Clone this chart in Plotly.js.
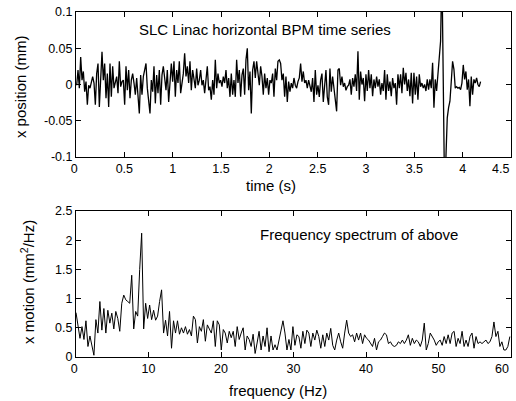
<!DOCTYPE html>
<html>
<head>
<meta charset="utf-8">
<script src="https://cdn.plot.ly/plotly-3.0.1.min.js"></script>
<style>html,body{margin:0;padding:0;background:#fff;}#chart{width:516px;height:401px;}</style>
</head>
<body>
<div id="chart"></div>
<script>
// ---- time series (x position, mm), uniformly sampled ----
const timeStart = 0.007;   // s
const timeStep = 0.01379;  // s
const xPosition = [
-0.001,0.020,-0.005,0.038,0.006,0.018,-0.010,0.004,-0.028,-0.001,
-0.005,0.006,0.011,0.002,-0.028,0.015,0.029,-0.031,0.006,0.045,
0.006,0.029,-0.019,0.015,-0.031,0.029,-0.017,0.025,-0.005,0.003,
0.011,-0.012,0.032,-0.003,0.004,0.006,-0.028,0.025,-0.008,0.020,
-0.019,0.006,0.015,0.002,-0.014,0.009,-0.021,-0.040,0.013,-0.014,
0.011,0.020,0.029,-0.005,-0.021,-0.040,0.006,-0.010,0.025,-0.026,
0.013,-0.012,0.020,-0.028,0.013,0.025,0.009,-0.008,0.020,-0.024,
0.002,0.029,0.004,0.032,-0.017,0.020,0.002,0.032,-0.012,0.002,
0.015,0.043,0.011,0.025,0.002,0.032,-0.008,0.020,0.009,-0.005,
0.022,-0.001,0.006,0.020,-0.001,0.006,-0.012,0.004,0.025,-0.008,
-0.003,-0.021,0.006,
-0.014,0.034,-0.005,0.015,0.002,0.006,-0.003,0.011,0.002,0.020,
-0.005,0.009,-0.017,0.015,-0.014,0.006,-0.017,0.034,0.002,0.020,
-0.017,0.013,0.022,-0.014,0.034,0.050,-0.008,0.018,-0.040,0.020,
0.032,0.009,0.032,0.015,-0.001,0.025,0.011,-0.014,0.015,-0.005,
0.009,-0.014,0.006,0.002,0.015,-0.017,0.022,0.006,0.032,0.034,
0.029,0.006,0.015,-0.017,0.011,-0.024,0.004,-0.010,0.002,-0.005,
0.009,-0.001,-0.005,0.004,0.009,0.029,0.004,0.018,0.002,0.006,
-0.005,0.006,-0.001,-0.010,0.009,-0.024,0.020,-0.014,-0.001,-0.017,
0.006,0.015,-0.024,-0.005,0.020,-0.017,-0.028,0.022,-0.010,0.011,
-0.005,-0.024,-0.037,0.020,0.022,-0.001,0.011,-0.003,0.002,-0.008,
-0.003,-0.001,
0.007,-0.014,0.009,-0.003,0.014,-0.009,0.046,-0.021,0.018,0.000,
0.009,-0.023,0.014,-0.009,0.020,-0.005,0.014,-0.016,0.007,-0.005,
0.011,-0.003,0.007,-0.014,0.002,-0.009,0.020,-0.021,0.014,-0.009,
0.004,-0.016,0.009,-0.005,0.002,-0.028,0.014,-0.005,0.014,-0.012,
0.023,0.000,0.016,-0.009,0.007,-0.016,0.016,-0.026,0.016,-0.014,
0.011,-0.021,0.014,-0.003,0.002,-0.005,0.000,-0.009,0.007,-0.007,
0.007,-0.005,0.030,-0.032,0.007,-0.009,0.014,0.027,0.060,0.160,
0.000,-0.150,-0.100,-0.046,-0.032,-0.023,0.004,0.032,0.021,-0.005,
-0.003,-0.005,-0.004,-0.007,0.002,0.027,0.007,0.018,-0.007,0.007,
-0.030,0.011,-0.014,0.007,0.002,0.009,0.000,-0.003,0.004
];

// ---- frequency spectrum (mm^2/Hz), uniform frequency bins ----
const freqStart = 0;      // Hz
const freqStep = 0.2745;  // Hz
const spectrum = [
0.76,0.52,0.32,0.52,0.30,0.62,0.18,0.36,0.20,0.03,
0.64,0.41,0.95,0.46,0.83,0.41,0.80,0.58,0.75,0.48,
0.78,0.66,0.44,0.92,1.06,0.98,0.95,0.92,1.40,0.48,
0.78,0.70,1.50,2.12,0.48,0.92,0.66,0.89,0.64,0.80,
0.63,0.70,0.95,1.15,0.41,0.63,0.36,0.78,0.15,0.62,
0.41,0.62,0.39,0.50,0.41,0.52,0.39,0.47,0.36,0.70,
0.64,0.24,0.52,0.44,0.64,0.27,0.55,0.47,0.41,0.62,
0.18,0.62,0.55,0.12,0.47,0.41,0.24,0.44,0.33,0.44,
0.18,0.52,0.30,0.41,0.50,0.12,0.36,0.30,0.18,0.39,
0.06,0.24,0.44,0.12,0.36,0.18,0.50,0.09,0.36,0.12,
0.21,0.12,0.30,0.47,0.62,0.41,0.12,0.30,0.12,0.52,
0.20,0.38,0.35,0.15,0.44,0.23,0.46,0.41,0.18,0.41,
0.29,0.46,0.35,0.15,0.38,0.18,0.41,0.29,0.49,0.20,
0.12,0.29,0.41,0.26,0.15,0.41,0.63,0.41,0.35,0.38,
0.26,0.41,0.29,0.41,0.23,0.38,0.32,0.29,0.23,0.18,
0.32,0.12,0.26,0.29,0.35,0.41,0.38,0.23,0.26,0.20,
0.18,0.20,0.26,0.23,0.29,0.23,0.29,0.38,0.20,0.32,
0.23,0.29,0.26,0.18,0.29,0.58,0.12,0.23,0.41,0.35,
0.29,0.20,0.26,0.29,0.20,0.35,0.23,0.38,0.23,0.41,
0.44,0.18,0.32,0.23,0.44,0.18,0.29,0.18,0.35,0.41,
0.15,0.35,0.23,0.26,0.23,0.26,0.29,0.23,0.26,0.35,
0.60,0.35,0.44,0.18,0.26,0.12,0.12,0.18,0.35
];

// ---- ticks ----
const NB = '\u00a0';
const timeTicks = [0,0.5,1,1.5,2,2.5,3,3.5,4];
const timeTickText = ['0'+NB,'0.5','1','1.5','2','2.5','3','3.5','4'];
const timeLastTick = 4.5;
const posTicks = [-0.1,-0.05,0,0.05,0.1];
const posTickText = ['-0.1','-0.05','0','0.05','0.1'];
const freqTicks = [0,10,20,30,40,50];
const freqTickText = ['0'+NB,'10','20','30','40','50'];
const freqLastTick = 60;
const psdTicks = [0,0.5,1,1.5,2,2.5];
const psdTickText = ['0','0.5','1','1.5','2','2.5'];

const FONT = 'Liberation Sans, Arial, Helvetica, sans-serif';

const axisCommon = {
  showline: true, linecolor: '#000', linewidth: 1,
  mirror: 'ticks', ticks: 'inside', ticklen: 5, tickwidth: 1, tickcolor: '#000',
  showgrid: false, zeroline: false,
  tickfont: {family: FONT, size: 12.5, color: '#000'}
};

const traces = [
  {type: 'scatter', mode: 'lines', x0: timeStart, dx: timeStep, y: xPosition,
   xaxis: 'x', yaxis: 'y', line: {color: '#000', width: 1.3}, hoverinfo: 'skip'},
  {type: 'scatter', mode: 'lines', x0: freqStart, dx: freqStep, y: spectrum,
   xaxis: 'x2', yaxis: 'y2', line: {color: '#000', width: 1}, hoverinfo: 'skip'}
];

const tickFont = {family: FONT, size: 12.5, color: '#000'};
const titleFont = {family: FONT, size: 15, color: '#000'};

const layout = {
  width: 516, height: 401,
  margin: {l: 76, r: 5, t: 12, b: 44},
  paper_bgcolor: '#fff', plot_bgcolor: '#fff',
  showlegend: false,
  font: {family: FONT, color: '#000'},
  xaxis: Object.assign({}, axisCommon, {domain: [0, 1], anchor: 'y', range: [0, 4.5],
    tickmode: 'array', tickvals: timeTicks, ticktext: timeTickText}),
  yaxis: Object.assign({}, axisCommon, {domain: [0.5797, 1], anchor: 'x', range: [-0.1, 0.1],
    tickmode: 'array', tickvals: posTicks, ticktext: posTickText}),
  xaxis2: Object.assign({}, axisCommon, {domain: [0, 1], anchor: 'y2', range: [0, 60],
    tickmode: 'array', tickvals: freqTicks, ticktext: freqTickText}),
  yaxis2: Object.assign({}, axisCommon, {domain: [0, 0.4232], anchor: 'x2', range: [0, 2.5],
    tickmode: 'array', tickvals: psdTicks, ticktext: psdTickText}),
  annotations: [
    {text: String(timeLastTick), xref: 'x', yref: 'paper', x: timeLastTick, y: 0.545,
     xanchor: 'right', yanchor: 'middle', showarrow: false, font: tickFont},
    {text: String(freqLastTick), xref: 'x2', yref: 'paper', x: freqLastTick, y: -0.0335,
     xanchor: 'right', yanchor: 'middle', showarrow: false, font: tickFont},
    {text: 'SLC Linac horizontal BPM time series', xref: 'paper', yref: 'paper',
     x: 0.140, y: 0.948, xanchor: 'left', yanchor: 'middle', showarrow: false, font: titleFont},
    {text: 'Frequency spectrum of above', xref: 'paper', yref: 'paper',
     x: 0.418, y: 0.3565, xanchor: 'left', yanchor: 'middle', showarrow: false, font: titleFont},
    {text: 'time (s)', xref: 'paper', yref: 'paper',
     x: 0.448, y: 0.498, xanchor: 'center', yanchor: 'middle', showarrow: false, font: titleFont},
    {text: 'frequency (Hz)', xref: 'paper', yref: 'paper',
     x: 0.464, y: -0.0957, xanchor: 'center', yanchor: 'middle', showarrow: false, font: titleFont},
    {text: 'x position (mm)', xref: 'paper', yref: 'paper', textangle: -90,
     x: -0.126, y: 0.783, xanchor: 'center', yanchor: 'middle', showarrow: false, font: titleFont},
    {text: 'x motion (mm<sup>2</sup>/Hz)', xref: 'paper', yref: 'paper', textangle: -90,
     x: -0.113, y: 0.217, xanchor: 'center', yanchor: 'middle', showarrow: false, font: titleFont}
  ]
};

Plotly.newPlot('chart', traces, layout, {staticPlot: true, displayModeBar: false});
</script>
</body>
</html>
